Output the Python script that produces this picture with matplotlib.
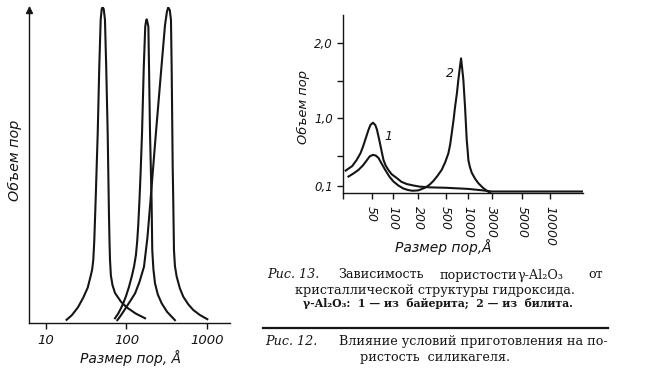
import numpy as np
import matplotlib
matplotlib.use("Agg")
import matplotlib.pyplot as plt
from matplotlib.ticker import NullLocator, FixedLocator

# Рис. 12: силикагель, три образца (размер пор в Å, объем пор в отн. ед.)
pore_a = [18, 21, 25, 29, 33, 36, 37.5, 38.7, 39.8, 41.4, 43.9, 45.9, 47.8, 49.2, 50.6, 52.2, 54,
          56, 58.4, 60.6, 61.5, 62.4, 64, 67, 72, 85, 100, 130, 170]
vol_a = [0.01, 0.025, 0.05, 0.08, 0.112, 0.15, 0.17, 0.20, 0.26, 0.39, 0.60, 0.81, 0.96, 0.993, 1.0,
         0.993, 0.96, 0.81, 0.60, 0.34, 0.26, 0.20, 0.15, 0.12, 0.095, 0.068, 0.05, 0.03, 0.015]
pore_b = [72, 79, 85.5, 92, 98.6, 107, 116, 124, 131, 136, 140, 145, 150, 156, 164, 171, 175, 178,
          181, 187, 190.5, 196, 205, 209, 216, 226, 245, 274, 320, 400]
vol_b = [0.015, 0.03, 0.047, 0.065, 0.085, 0.113, 0.146, 0.178, 0.215, 0.26, 0.31, 0.389, 0.48,
         0.601, 0.811, 0.938, 0.955, 0.961, 0.955, 0.938, 0.811, 0.601, 0.389, 0.231, 0.17, 0.126,
         0.09, 0.062, 0.035, 0.009]
pore_c = [77, 83, 91, 100.5, 113, 128, 145, 165, 182, 199, 232, 272, 301, 318, 330, 345, 357, 364,
          375, 381, 389, 400, 420, 460, 508, 590, 677, 820, 1010]
vol_c = [0.009, 0.02, 0.035, 0.052, 0.072, 0.094, 0.13, 0.178, 0.27, 0.389, 0.601, 0.811, 0.943,
         0.985, 0.999, 0.99, 0.959, 0.811, 0.495, 0.389, 0.231, 0.18, 0.147, 0.11, 0.083, 0.058,
         0.041, 0.025, 0.012]

# Рис. 13: gamma-Al2O3, 1 - из байерита, 2 - из бемита
pore_1 = [22, 27, 31, 35, 38, 42, 45, 48, 52, 56, 59, 62, 65, 69, 73, 78, 85, 95, 110, 125, 145,
          175, 210, 300, 500, 1000, 2000, 3000, 22400]
vol_1 = [0.30, 0.36, 0.44, 0.53, 0.62, 0.75, 0.84, 0.91, 0.94, 0.91, 0.85, 0.76, 0.67, 0.55, 0.44,
         0.37, 0.31, 0.25, 0.20, 0.15, 0.12, 0.10, 0.085, 0.075, 0.07, 0.055, 0.035, 0.02, 0.02]
pore_2 = [24, 28, 33, 38, 43, 47, 52, 57, 62, 69, 77, 88, 100, 115, 132, 150, 170, 200, 250, 290,
          330, 380, 437, 490, 543, 575, 604, 640, 670, 710, 743, 780, 810, 840, 871, 918, 968, 1000,
          1028, 1100, 1202, 1400, 1626, 2000, 2390, 2800]
vol_2 = [0.22, 0.26, 0.31, 0.37, 0.44, 0.49, 0.51, 0.50, 0.47, 0.39, 0.31, 0.22, 0.155, 0.10, 0.06,
         0.04, 0.03, 0.035, 0.07, 0.11, 0.16, 0.23, 0.31, 0.41, 0.53, 0.65, 0.80, 0.98, 1.15, 1.33,
         1.51, 1.68, 1.80, 1.66, 1.51, 1.15, 0.71, 0.55, 0.44, 0.35, 0.27, 0.19, 0.13, 0.07, 0.03, 0.0]

ticks_13 = [50, 100, 200, 500, 1000, 3000, 5000, 10000]
yticks_13 = [0.1, 1.0, 2.0]
ylabels_13 = ["0,1", "1,0", "2,0"]

# неравномерная шкала оси на рис. 13 (как в книге)
scale_vals = [20, 50, 100, 200, 500, 1000, 3000, 5000, 10000, 30000]
scale_pos = [0, 29, 50.6, 75.6, 103, 125, 149, 179, 207.3, 252.1]


def fwd(x):
    x = np.clip(np.asarray(x, dtype=float), 1e-9, None)
    return np.interp(np.log10(x), np.log10(scale_vals), scale_pos)


def inv(p):
    return 10 ** np.interp(p, scale_pos, np.log10(scale_vals))


W, H = 653, 370
INK = "#151515"
fig = plt.figure(figsize=(W / 100, H / 100), dpi=100)


def box(x0, y0, x1, y1):
    return [x0 / W, 1 - y1 / H, (x1 - x0) / W, (y1 - y0) / H]


def ftext(x, y, s, **kw):
    fig.text(x / W, 1 - y / H, s, color=INK, **kw)


# --- левый график (рис. 12) ---
ax = fig.add_axes(box(29, 7, 230, 323))
for x, y in [(pore_a, vol_a), (pore_b, vol_b), (pore_c, vol_c)]:
    ax.plot(x, y, color=INK, lw=1.5, solid_joinstyle="round")
ax.set_xscale("log")
ax.set_xlim(6.15, 1932)
ax.set_ylim(0, 1.0)
ax.spines[["top", "right"]].set_visible(False)
for s in ["left", "bottom"]:
    ax.spines[s].set_linewidth(1.0)
    ax.spines[s].set_color(INK)
ax.set_xticks([10, 100, 1000], labels=["10", "100", "1000"])
ax.xaxis.set_minor_locator(NullLocator())
ax.set_yticks([])
ax.tick_params(axis="x", direction="out", length=4, width=1, pad=4, labelsize=9.5, colors=INK)
for t in ax.get_xticklabels():
    t.set_fontstyle("italic")
ax.plot([0], [0.99], marker="^", ms=5, color=INK, transform=ax.transAxes, clip_on=False)
ftext(131, 358, "Размер пор, Å", fontsize=10, style="italic", ha="center", va="center")
ftext(15, 160, "Объем пор", fontsize=10.3, style="italic", rotation=90, ha="center", va="center")

# --- правый график (рис. 13) ---
ax2 = fig.add_axes(box(342.7, 15, 583, 193))
ax2.set_xscale("function", functions=(fwd, inv))
ax2.plot(pore_1, vol_1, color=INK, lw=1.5, solid_joinstyle="round")
ax2.plot(pore_2, vol_2, color=INK, lw=1.5, solid_joinstyle="round")
ax2.set_xlim(20, 22400)
ax2.set_ylim(0, 2.38)
ax2.spines[["top", "right"]].set_visible(False)
for s in ["left", "bottom"]:
    ax2.spines[s].set_linewidth(1.0)
    ax2.spines[s].set_color(INK)
ax2.xaxis.set_major_locator(FixedLocator(ticks_13))
ax2.set_xticklabels([str(v) for v in ticks_13], rotation=-90, fontstyle="italic")
ax2.xaxis.set_minor_locator(FixedLocator([20]))
ax2.set_yticks(yticks_13, labels=ylabels_13, fontstyle="italic")
ax2.yaxis.set_minor_locator(FixedLocator([0.5, 1.5]))
ax2.tick_params(axis="x", which="both", direction="out", length=4, width=1, pad=5, labelsize=9, colors=INK)
ax2.tick_params(axis="y", which="both", direction="out", length=4, width=1, pad=3, labelsize=8.5, colors=INK)
ax2.text(85, 0.75, "1", fontsize=9, style="italic", color=INK, ha="center", va="center")
ax2.text(573, 1.6, "2", fontsize=9, style="italic", color=INK, ha="center", va="center")
ftext(443, 247, "Размер пор,Å", fontsize=10, style="italic", ha="center", va="center")
ftext(303, 107, "Объем пор", fontsize=9.4, style="italic", rotation=90, ha="center", va="center")

# --- подписи ---
serif = "DejaVu Serif"
ftext(266.7, 275, "Рис. 13.", family=serif, style="italic", fontsize=9.2, va="center")
ftext(338, 275, "Зависимость", family=serif, fontsize=9.2, va="center")
ftext(440, 275, "пористости", family=serif, fontsize=9.2, va="center")
ftext(518, 275, "γ-Al₂O₃", family=serif, fontsize=9.2, va="center")
ftext(603, 275, "от", family=serif, fontsize=9.2, va="center", ha="right")
ftext(435, 290.7, "кристаллической структуры гидроксида.", family=serif, fontsize=9.2,
      va="center", ha="center")
ftext(438, 303.3, "γ-Al₂O₃:  1 — из  байерита;  2 — из  билита.", family=serif, fontsize=7.8,
      weight="bold", va="center", ha="center")
fig.add_artist(plt.Line2D([263.3 / W, 608 / W], [1 - 328.3 / H] * 2, color=INK, lw=1.6))
ftext(265, 341.7, "Рис. 12.", family=serif, style="italic", fontsize=9.2, va="center")
ftext(608, 341.7, "Влияние условий приготовления на по-", family=serif, fontsize=9.2,
      va="center", ha="right")
ftext(435, 357.3, "ристость  силикагеля.", family=serif, fontsize=9.2, va="center", ha="center")

fig.savefig("out.png", dpi=100)
